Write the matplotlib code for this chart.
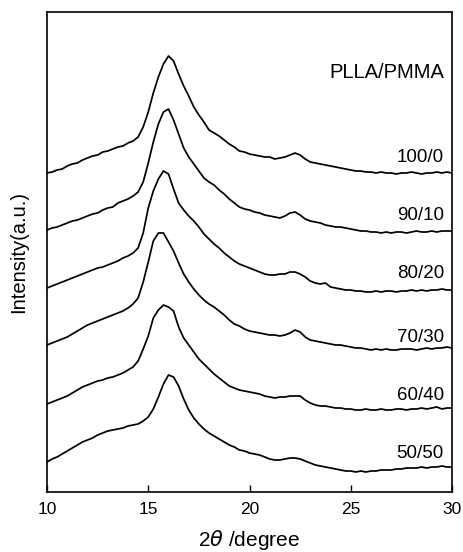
import numpy as np
import matplotlib
matplotlib.use("Agg")
import matplotlib.pyplot as plt

plt.rcParams['font.family'] = ['Liberation Sans', 'DejaVu Sans']
plt.rcParams['mathtext.fontset'] = 'dejavusans'

# 2theta sampling, 10..30 deg every 0.25 deg
two_theta = np.linspace(10, 30, 81)

# intensity above each curve's own baseline (a.u.)
h_100_0 = [0, 1, 3, 4, 7, 9, 10, 13, 15, 17, 18, 21, 22, 24, 26, 27,
           30, 32, 36, 46, 61, 80, 96, 109, 117, 112, 99, 87, 77, 66, 58, 51,
           43, 40, 37, 33, 29, 26, 22, 21, 19, 18, 17, 16, 16, 14, 15, 16,
           18, 20, 18, 14, 11, 10, 9, 8, 7, 6, 5, 4, 3, 2, 2, 1,
           1, 0, 1, 0, 0, -1, 0, 0, 1, 0, -1, 0, 0, 1, 0, 1, 0]
h_90_10 = [0, 2, 3, 5, 7, 9, 10, 12, 14, 16, 17, 20, 22, 23, 27, 29,
           31, 34, 38, 48, 67, 88, 106, 118, 121, 110, 96, 82, 73, 66, 59, 52,
           48, 45, 40, 36, 31, 27, 23, 21, 20, 18, 17, 15, 14, 13, 12, 14,
           17, 18, 15, 11, 9, 8, 7, 5, 4, 3, 3, 2, 1, 0, -1, -1,
           -2, -2, -3, -2, -3, -2, -2, -3, -2, -1, -2, -2, -1, -2, -1, -1, -1]
h_80_20 = [0, 2, 4, 6, 8, 10, 12, 14, 16, 18, 20, 21, 23, 25, 27, 30,
           32, 35, 40, 55, 80, 97, 109, 117, 114, 99, 85, 78, 72, 67, 61, 54,
           49, 44, 40, 35, 31, 27, 24, 22, 20, 18, 16, 14, 13, 13, 14, 14,
           16, 16, 14, 11, 7, 5, 4, 5, 1, 0, -1, -2, -2, -3, -3, -4,
           -4, -3, -4, -3, -3, -4, -3, -3, -2, -3, -2, -3, -2, -2, -1, -2, -2]
h_70_30 = [0, 2, 4, 6, 8, 11, 14, 17, 20, 22, 24, 26, 28, 30, 32, 34,
           37, 41, 47, 63, 83, 104, 112, 112, 103, 94, 82, 71, 63, 56, 50, 45,
           41, 38, 34, 30, 25, 21, 19, 16, 14, 13, 12, 11, 10, 10, 9, 10,
           12, 15, 13, 8, 5, 4, 3, 2, 1, 0, 0, -1, -2, -3, -3, -4,
           -5, -4, -5, -4, -5, -5, -4, -4, -4, -5, -4, -3, -4, -3, -3, -2, -3]
h_60_40 = [0, 2, 4, 6, 8, 11, 14, 17, 19, 21, 23, 24, 26, 27, 29, 31,
           34, 37, 43, 55, 68, 86, 94, 99, 97, 93, 77, 66, 59, 52, 45, 40,
           35, 30, 26, 22, 18, 16, 14, 13, 12, 11, 10, 8, 7, 6, 7, 7,
           8, 8, 8, 4, 1, -1, -2, -2, -3, -4, -4, -5, -5, -6, -6, -5,
           -6, -6, -5, -6, -6, -5, -5, -6, -5, -5, -4, -5, -4, -3, -5, -4, -4]
h_50_50 = [0, 3, 5, 8, 11, 14, 17, 20, 22, 24, 27, 29, 31, 32, 33, 34,
           36, 37, 38, 41, 45, 53, 65, 78, 87, 85, 76, 63, 52, 44, 38, 33,
           29, 26, 23, 20, 17, 15, 12, 11, 9, 8, 7, 5, 3, 2, 2, 3,
           4, 4, 3, 1, -1, -3, -4, -5, -6, -7, -8, -9, -9, -10, -9, -10,
           -9, -9, -8, -8, -8, -7, -7, -6, -6, -6, -5, -6, -5, -5, -4, -5, -5]

samples = ['100/0', '90/10', '80/20', '70/30', '60/40', '50/50']
profiles = [h_100_0, h_90_10, h_80_20, h_70_30, h_60_40, h_50_50]
offsets = [319, 262, 204, 147, 88, 30]   # vertical stacking shift

# how far above its baseline each sample label sits
label_lift = [15, 15, 15, 8, 8, 9]

fig = plt.figure(figsize=(4.63, 5.52), dpi=100)
ax = fig.add_axes([47/463, 60/552, 405/463, 480/552])

for name, h, off, lift in zip(samples, profiles, offsets, label_lift):
    y = np.array(h) + off
    ax.plot(two_theta, y, color='black', lw=1.25)
    ax.text(29.6, off + lift, name, ha='right', va='center', fontsize=13.5)

ax.text(29.6, 420, 'PLLA/PMMA', ha='right', va='center', fontsize=14.5)

ax.set_xlim(10, 30)
ax.set_ylim(0, 480)
ax.set_xticks([10, 15, 20, 25, 30])
ax.set_yticks([])
ax.tick_params(axis='x', direction='in', length=5, width=1, labelsize=12.5, pad=7)
for s in ax.spines.values():
    s.set_linewidth(1.2)

ax.set_xlabel(r'2$\theta$ /degree', fontsize=15, labelpad=8)
ax.set_ylabel('Intensity(a.u.)', fontsize=14.5, labelpad=13.5)

fig.savefig('out.png', dpi=100)
